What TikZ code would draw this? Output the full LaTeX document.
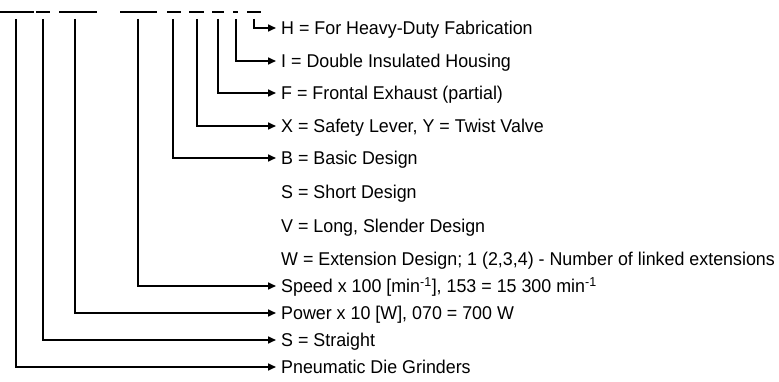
\documentclass[tikz,border=0pt]{standalone}
\usepackage{fontspec}
\setmainfont[FakeStretch=0.965]{Liberation Sans}
\usetikzlibrary{arrows.meta}
\begin{document}
\begin{tikzpicture}[x=1pt,y=-1pt,
  dashline/.style={line width=2.6pt},
  conn/.style={line width=1.6pt,-{Triangle[length=8pt,width=7pt]},shorten >=5pt},
  lbl/.style={anchor=west,inner sep=0pt,text height=13.2pt,text depth=0pt,
    font=\fontsize{18.5}{20}\selectfont}]
\useasboundingbox (0,0) rectangle (779,382);
% code dashes
\draw[dashline] (0,12) -- (34,12);
\draw[dashline] (36,12) -- (50,12);
\draw[dashline] (59,12) -- (97,12);
\draw[dashline] (120,12) -- (157,12);
\draw[dashline] (167,12) -- (181,12);
\draw[dashline] (189,12) -- (204,12);
\draw[dashline] (212,12) -- (224,12);
\draw[dashline] (233,12) -- (238,12);
\draw[dashline] (247,12) -- (261,12);
% line starts
\coordinate (v1) at (16,19);
\coordinate (v2) at (43,19);
\coordinate (v3) at (75,19);
\coordinate (v4) at (138,19);
\coordinate (v5) at (173,19);
\coordinate (v6) at (197,19);
\coordinate (v7) at (218,19);
\coordinate (v8) at (236,19);
\coordinate (v9) at (254,19);
% labels
\node[lbl] (tH) at (281,28) {H = For Heavy-Duty Fabrication};
\node[lbl] (tI) at (281,61) {I = Double Insulated Housing};
\node[lbl] (tF) at (281,93) {F = Frontal Exhaust (partial)};
\node[lbl] (tX) at (281,126) {X = Safety Lever, Y = Twist Valve};
\node[lbl] (tB) at (281,158) {B = Basic Design};
\node[lbl] (tS) at (281,192) {S = Short Design};
\node[lbl] (tV) at (281,226) {V = Long, Slender Design};
\node[lbl] (tW) at (281,259) {W = Extension Design; 1 (2,3,4) - Number of linked extensions};
\node[lbl] (tSp) at (281,286) {Speed x 100 [min\textsuperscript{-1}], 153 = 15 300 min\textsuperscript{-1}};
\node[lbl] (tP) at (281,313) {Power x 10 [W], 070 = 700 W};
\node[lbl] (tSt) at (281,340) {S = Straight};
\node[lbl] (tPn) at (281,367) {Pneumatic Die Grinders};
% connectors
\draw[conn] (v9) |- (tH.west);
\draw[conn] (v8) |- (tI.west);
\draw[conn] (v7) |- (tF.west);
\draw[conn] (v6) |- (tX.west);
\draw[conn] (v5) |- (tB.west);
\draw[conn] (v4) |- (tSp.west);
\draw[conn] (v3) |- (tP.west);
\draw[conn] (v2) |- (tSt.west);
\draw[conn] (v1) |- (tPn.west);
\end{tikzpicture}
\end{document}
